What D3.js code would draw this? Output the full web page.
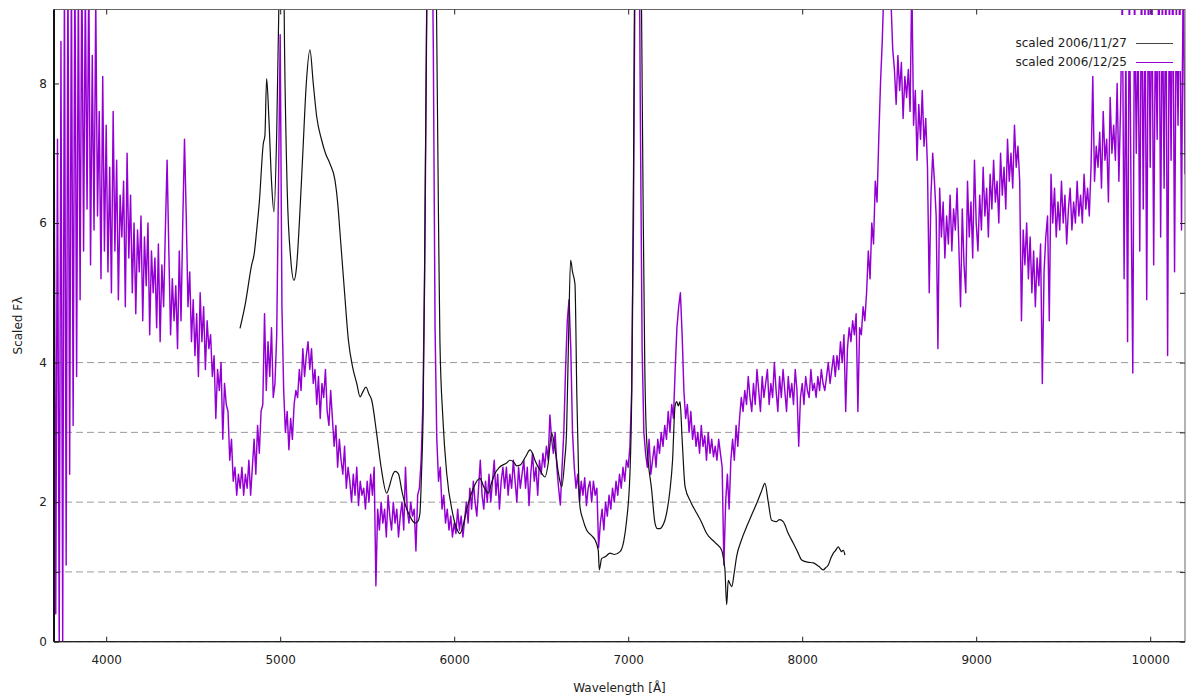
<!DOCTYPE html>
<html>
<head>
<meta charset="utf-8">
<script src="https://cdn.jsdelivr.net/npm/d3@7"></script>
<style>
  body { margin: 0; background: #fff; }
  svg { display: block; }
  text { font-family: "DejaVu Sans", Verdana, sans-serif; fill: #222; }
</style>
</head>
<body>
<svg id="chart" width="1186" height="695"></svg>
<script>
// ---- axis setup ----
const xDomain = [3700, 10200];
const yDomain = [0, 9.06];
const xTickValues = [4000, 5000, 6000, 7000, 8000, 9000, 10000];
const yTickValues = [0, 1, 2, 3, 4, 5, 6, 7, 8];
const yLabelValues = [0, 2, 4, 6, 8];
const gridLevels = [0, 1, 2, 3, 4];
const xTitle = "Wavelength [Å]";
const yTitle = "Scaled Fλ";
const seriesNames = ["scaled 2006/11/27", "scaled 2006/12/25"];

// ---- 2006/11/27 spectrum (wavelength in Å, scaled flux) ----
const novWave = [
  4769, 4800, 4836, 4850, 4865, 4880, 4903, 4912, 4922, 4935, 4950, 4964, 4980, 4995,
  5005, 5015, 5025, 5040, 5060, 5079, 5095, 5110, 5130, 5150, 5171, 5190, 5210, 5238,
  5260, 5286, 5315, 5330, 5344, 5370, 5392, 5415, 5440, 5459, 5475, 5493, 5510, 5526,
  5554, 5580, 5612, 5630, 5645, 5660, 5679, 5700, 5717, 5745, 5775, 5790, 5803, 5812,
  5822, 5832, 5845, 5860, 5880, 5895, 5910, 5918, 5935, 5957, 5990, 6010, 6033, 6050,
  6065, 6081, 6110, 6148, 6170, 6196, 6215, 6234, 6260, 6301, 6320, 6340, 6360, 6378,
  6410, 6436, 6450, 6464, 6495, 6522, 6540, 6560, 6580, 6600, 6618, 6635, 6646, 6656,
  6669, 6680, 6694, 6705, 6715, 6723, 6740, 6761, 6790, 6809, 6828, 6834, 6847, 6870,
  6895, 6920, 6953, 6975, 6991, 7010, 7020, 7030, 7040, 7055, 7070, 7085, 7095, 7106,
  7135, 7154, 7168, 7183, 7195, 7211, 7225, 7240, 7255, 7269, 7279, 7288, 7298, 7310,
  7327, 7360, 7394, 7420, 7451, 7500, 7537, 7550, 7556, 7566, 7575, 7585, 7595, 7610,
  7623, 7650, 7681, 7710, 7738, 7765, 7786, 7805, 7824, 7850, 7870, 7891, 7920, 7949,
  7975, 7997, 8030, 8064, 8095, 8121, 8135, 8150, 8165, 8179, 8190, 8207, 8218, 8226,
  8236, 8246
];
const novFlux = [
  4.49, 4.85, 5.40, 5.55, 5.90, 6.30, 7.14, 7.25, 8.07, 7.50, 6.60, 6.16, 7.30, 9.50,
  12.0, 11.0, 8.50, 6.50, 5.50, 5.18, 5.40, 6.00, 7.00, 8.00, 8.48, 8.00, 7.52, 7.19,
  7.00, 6.85, 6.61, 6.30, 5.85, 5.00, 4.32, 3.95, 3.70, 3.51, 3.58, 3.65, 3.55, 3.46,
  2.99, 2.50, 2.13, 2.25, 2.38, 2.44, 2.41, 2.15, 1.98, 1.80, 1.70, 1.72, 1.84, 2.40,
  3.37, 6.00, 10.0, 13.5, 14.0, 10.0, 6.00, 4.30, 3.20, 2.41, 1.85, 1.65, 1.55, 1.65,
  1.82, 1.98, 2.20, 2.34, 2.22, 2.13, 2.28, 2.41, 2.50, 2.56, 2.60, 2.58, 2.52, 2.53,
  2.65, 2.75, 2.70, 2.60, 2.45, 2.36, 2.55, 2.99, 2.75, 2.40, 2.22, 2.60, 3.03, 4.20,
  5.47, 5.30, 5.13, 3.50, 2.40, 1.93, 1.75, 1.60, 1.52, 1.46, 1.31, 1.03, 1.19, 1.22,
  1.27, 1.25, 1.29, 1.45, 1.74, 2.41, 3.50, 6.50, 11.0, 13.5, 11.0, 6.50, 4.00, 2.89,
  2.17, 1.70, 1.62, 1.62, 1.65, 1.74, 1.90, 2.17, 2.60, 3.37, 3.44, 3.38, 3.44, 2.90,
  2.22, 2.00, 1.84, 1.72, 1.55, 1.42, 1.31, 1.15, 1.03, 0.53, 0.88, 0.83, 0.79, 1.00,
  1.22, 1.45, 1.65, 1.82, 1.98, 2.15, 2.27, 2.00, 1.74, 1.72, 1.75, 1.72, 1.55, 1.41,
  1.28, 1.17, 1.14, 1.13, 1.08, 1.03, 1.06, 1.10, 1.20, 1.27, 1.30, 1.36, 1.32, 1.29,
  1.31, 1.24
];

// ---- 2006/12/25 spectrum: sampled every 10 Å from 3700 Å, one row per 100 Å ----
const decStart = 3700;
const decStep = 10;
const decFlux = [
  7.8, 0.4, 7.2, 0.0, 8.6, 0.0, 9.6, 1.1, 9.8, 2.4,
  9.7, 3.1, 9.9, 3.8, 9.5, 4.9, 9.8, 5.6, 9.4, 6.2,
  9.6, 5.4, 8.4, 5.9, 9.2, 6.1, 7.6, 5.2, 8.1, 5.6,
  7.4, 5.3, 6.8, 5.0, 7.6, 5.6, 6.9, 4.9, 6.4, 5.8,
  6.6, 4.8, 7.0, 5.5, 6.4, 5.0, 6.0, 4.7, 5.9, 5.3,
  6.1, 4.6, 5.8, 5.1, 6.0, 4.4, 5.6, 5.0, 5.5, 4.5,
  5.7, 4.3, 5.4, 4.8, 5.9, 6.9, 5.6, 4.4, 5.2, 4.6,
  5.1, 4.2, 5.6, 4.6, 6.0, 7.2, 6.1, 4.8, 5.3, 4.3,
  4.9, 4.1, 4.7, 3.8, 5.0, 4.3, 4.8, 3.9, 4.6, 4.2,
  4.4, 3.8, 4.1, 3.2, 3.9, 3.6, 4.0, 2.9, 3.7, 3.4,
  3.3, 2.6, 2.9, 2.3, 2.5, 2.1, 2.4, 2.2, 2.5, 2.1,
  2.4, 2.2, 2.6, 2.1, 2.5, 2.9, 2.4, 3.1, 2.7, 3.3,
  3.4, 4.7, 3.6, 4.3, 3.8, 4.5, 3.5, 3.7, 4.4, 6.5,
  8.7, 4.8, 3.6, 3.0, 3.3, 2.75, 3.2, 2.9, 3.4, 3.6,
  3.5, 3.9, 3.6, 4.2, 3.8, 4.1, 4.3, 3.9, 4.2, 3.7,
  3.9, 3.4, 3.8, 3.2, 3.7, 3.5, 3.9, 3.3, 3.1, 3.6,
  3.2, 2.8, 3.1, 2.5, 2.9, 2.6, 2.4, 2.8, 2.2, 2.5,
  2.3, 2.0, 2.4, 2.1, 2.5, 1.95, 2.3, 2.1, 2.2, 1.9,
  2.3, 2.0, 2.4, 2.1, 2.5, 0.8, 1.9, 1.6, 2.0, 1.7,
  1.9, 1.5, 2.1, 1.8, 1.6, 2.0, 1.7, 1.9, 1.5, 1.8,
  2.0, 1.6, 2.5, 1.9, 1.7, 2.0, 1.8, 1.9, 1.3, 2.1,
  2.2, 2.6, 3.4, 5.2, 8.4, 11.5, 12.5, 11.0, 8.5, 4.5,
  2.9, 2.3, 2.5, 1.9, 2.1, 1.7, 1.9, 1.6, 1.8, 1.5,
  1.7, 1.55, 1.9, 1.6, 1.8, 1.5, 1.75, 2.0, 1.7, 2.2,
  1.9, 2.3, 2.0, 1.8, 2.2, 2.6, 2.1, 1.9, 2.3, 2.0,
  2.4, 2.0, 2.3, 2.6, 2.1, 2.4, 1.9, 2.3, 2.5, 2.2,
  2.5, 2.1, 2.4, 2.2, 2.6, 2.3, 2.0, 2.5, 2.2, 2.4,
  2.6, 2.2, 2.5, 1.95, 2.4, 2.7, 2.3, 2.5, 2.1, 2.6,
  2.4, 2.7, 2.5, 2.8, 2.6, 3.25, 2.9, 2.7, 3.0, 2.5,
  2.2, 1.96, 2.5, 3.0, 3.9, 4.6, 4.9, 4.2, 3.0, 2.5,
  2.2, 2.4, 2.0, 2.3, 2.1, 2.35, 1.95, 2.2, 2.3, 2.0,
  2.3, 2.1, 2.2, 1.35, 1.7, 1.9, 1.6, 2.0, 1.8, 2.1,
  1.9, 2.2, 2.0, 2.3, 2.1, 2.4, 2.2, 2.5, 2.3, 2.6,
  2.5, 2.8, 3.6, 6.0, 10.0, 12.5, 11.5, 7.5, 4.2, 3.0,
  2.7, 2.5, 2.9, 2.4, 2.6, 2.8, 2.5, 2.9, 2.7, 3.0,
  2.8, 3.1, 2.9, 3.3, 3.0, 3.4, 3.2, 3.9, 4.5, 4.8,
  5.0, 4.4, 3.6, 3.2, 3.4, 3.0, 3.3, 2.9, 3.1, 2.8,
  3.0, 2.7, 3.1, 2.8, 2.95, 2.6, 3.0, 2.7, 2.9, 2.65,
  2.8, 2.6, 2.9, 2.7, 2.5, 1.1, 2.0, 2.4, 1.9, 2.6,
  2.9, 2.6, 3.1, 2.8, 3.2, 3.5, 3.3, 3.6, 3.4, 3.8,
  3.5, 3.3, 3.7, 3.4, 3.9, 3.6, 3.3, 3.8, 3.5, 3.7,
  3.9, 3.4, 3.7, 3.5, 4.0, 3.6, 3.3, 3.8, 3.5, 3.9,
  3.6, 3.3, 3.8, 3.5, 3.7, 3.4, 3.9, 3.6, 2.8, 3.5,
  3.7, 3.4, 3.8, 3.6, 3.5, 3.9, 3.6, 3.7, 3.5, 3.8,
  3.6, 3.9, 3.7, 3.6, 3.8, 4.0, 3.7, 3.9, 4.1, 3.8,
  4.1, 3.9, 4.3, 4.0, 4.4, 3.3, 4.2, 4.5, 4.3, 4.6,
  4.4, 4.7, 3.3, 4.5, 4.4, 4.8, 4.6, 5.0, 5.6, 5.2,
  6.0, 5.7, 6.6, 6.3, 7.2, 8.0, 8.6, 9.4, 9.8, 9.2,
  9.6, 9.2, 8.5, 8.2, 7.7, 8.4, 7.9, 8.3, 7.5, 8.1,
  7.8, 8.2, 7.6, 9.5, 7.4, 7.9, 6.9, 7.7, 7.2, 7.9,
  7.1, 7.5, 6.8, 5.0, 6.4, 7.0, 6.6, 6.1, 4.2, 6.5,
  5.8, 6.3, 5.5, 6.1, 5.7, 6.4, 5.6, 6.2, 5.9, 6.5,
  5.7, 4.8, 6.2, 5.4, 5.0, 6.6, 5.8, 6.3, 5.5, 6.9,
  6.0, 5.6, 6.4, 5.9, 6.8, 6.1, 6.5, 5.8, 6.7, 6.2,
  6.9, 6.3, 6.6, 6.0, 7.0, 6.4, 6.8, 6.2, 7.2, 6.6,
  7.0, 6.5, 7.4, 6.8, 7.1, 6.6, 4.6, 5.9, 5.4, 6.0,
  5.2, 5.8, 5.0, 5.6, 4.8, 5.5, 5.1, 5.7, 3.7, 5.3,
  5.8, 6.1, 4.6, 6.7, 6.0, 6.5, 5.8, 6.3, 5.9, 6.6,
  6.0, 6.4, 5.7, 6.2, 6.5, 5.9, 6.3, 6.0, 6.6, 6.1,
  6.4, 6.0, 6.7, 6.2, 6.5, 6.1, 6.8, 8.1, 6.6, 7.1,
  6.8, 7.3, 6.5, 7.6, 6.9, 7.2, 6.3, 7.8, 7.0, 7.4,
  6.9, 8.0, 6.6, 7.7, 9.4, 5.2, 8.6, 4.3, 9.6, 6.4,
  3.85, 9.5, 7.0, 8.8, 5.6, 9.8, 6.2, 9.3, 4.9, 9.7,
  6.8, 9.6, 5.4, 8.9, 7.2, 9.9, 5.8, 9.4, 6.5, 9.7,
  4.1, 9.5, 6.9, 9.8, 5.3, 9.2, 7.4, 9.6, 5.9, 9.9, 6.7
];

const colors = { nov: "#111", dec: "#9400d3", grid: "#9a9a9a", frame: "#666" };

// ---- layout ----
const plot = { left: 54, right: 1185, top: 9.5, bottom: 641.7 };
const svg = d3.select("#chart");

const x = d3.scaleLinear().domain(xDomain).range([plot.left, plot.right]);
const y = d3.scaleLinear().domain(yDomain).range([plot.bottom, plot.top]);

svg.append("defs").append("clipPath").attr("id", "plotClip")
  .append("rect")
  .attr("x", plot.left).attr("y", plot.top)
  .attr("width", plot.right - plot.left).attr("height", plot.bottom - plot.top);

// dashed horizontal reference lines
svg.append("g").selectAll("line").data(gridLevels).join("line")
  .attr("x1", plot.left).attr("x2", plot.right)
  .attr("y1", d => y(d)).attr("y2", d => y(d))
  .attr("stroke", colors.grid).attr("stroke-width", 1)
  .attr("stroke-dasharray", "7,4");

const decData = decFlux.map((v, i) => ({ w: decStart + i * decStep, v }));
const novData = novWave.map((w, i) => ({ w, v: novFlux[i] }));

const dataLayer = svg.append("g").attr("clip-path", "url(#plotClip)");
dataLayer.append("path").datum(decData)
  .attr("d", d3.line().x(d => x(d.w)).y(d => y(d.v)))
  .attr("fill", "none")
  .attr("stroke", colors.dec).attr("stroke-width", 1.45)
  .attr("stroke-linejoin", "round");
dataLayer.append("path").datum(novData)
  .attr("d", d3.line().x(d => x(d.w)).y(d => y(d.v)).curve(d3.curveMonotoneX))
  .attr("fill", "none")
  .attr("stroke", colors.nov).attr("stroke-width", 1.2);

// legend (white box covering the data behind it)
const legend = svg.append("g");
legend.append("rect")
  .attr("x", 1003).attr("y", 15).attr("width", 178).attr("height", 56)
  .attr("fill", "#fff");
const legendRows = [
  { name: seriesNames[0], color: "#444", y: 43 },
  { name: seriesNames[1], color: colors.dec, y: 62 }
];
legendRows.forEach(r => {
  legend.append("text")
    .attr("x", 1127).attr("y", r.y).attr("dy", "0.35em")
    .attr("text-anchor", "end").attr("font-size", 12)
    .text(r.name);
  legend.append("line")
    .attr("x1", 1136).attr("x2", 1173)
    .attr("y1", r.y + 0.5).attr("y2", r.y + 0.5)
    .attr("stroke", r.color).attr("stroke-width", 1.2);
});

// frame
svg.append("rect")
  .attr("x", plot.left).attr("y", plot.top)
  .attr("width", plot.right - plot.left).attr("height", plot.bottom - plot.top)
  .attr("fill", "none").attr("stroke", colors.frame).attr("stroke-width", 1);
svg.append("line")
  .attr("x1", plot.left).attr("x2", plot.left)
  .attr("y1", plot.top).attr("y2", plot.bottom)
  .attr("stroke", "#111").attr("stroke-width", 2);
svg.append("line")
  .attr("x1", plot.left).attr("x2", plot.right)
  .attr("y1", plot.bottom).attr("y2", plot.bottom)
  .attr("stroke", "#222").attr("stroke-width", 1.3);

// axes with inward ticks
const tickLen = 5;
const styleAxis = g => {
  g.select(".domain").remove();
  g.selectAll(".tick line").attr("stroke", "#222");
  g.selectAll(".tick text").attr("font-size", 12).attr("fill", "#222")
    .style("font-family", "'DejaVu Sans', Verdana, sans-serif");
};

svg.append("g").attr("transform", `translate(0,${plot.bottom})`)
  .call(d3.axisBottom(x).tickValues(xTickValues).tickSize(-tickLen).tickPadding(14).tickFormat(d3.format("d")))
  .call(styleAxis);
svg.append("g").attr("transform", `translate(0,${plot.top})`)
  .call(d3.axisTop(x).tickValues(xTickValues).tickSize(-tickLen).tickFormat(""))
  .call(styleAxis);
svg.append("g").attr("transform", `translate(${plot.left},0)`)
  .call(d3.axisLeft(y).tickValues(yTickValues).tickSize(-tickLen).tickPadding(7)
    .tickFormat(d => yLabelValues.includes(d) ? d : ""))
  .call(styleAxis);
svg.append("g").attr("transform", `translate(${plot.right},0)`)
  .call(d3.axisRight(y).tickValues(yTickValues).tickSize(-tickLen).tickFormat(""))
  .call(styleAxis);

// axis titles
svg.append("text")
  .attr("x", (plot.left + plot.right) / 2).attr("y", 688).attr("dy", "0.35em")
  .attr("text-anchor", "middle").attr("font-size", 12)
  .text(xTitle);
svg.append("text")
  .attr("transform", `translate(18,${(plot.top + plot.bottom) / 2}) rotate(-90)`)
  .attr("dy", "0.35em")
  .attr("text-anchor", "middle").attr("font-size", 12)
  .text(yTitle);
</script>
</body>
</html>
